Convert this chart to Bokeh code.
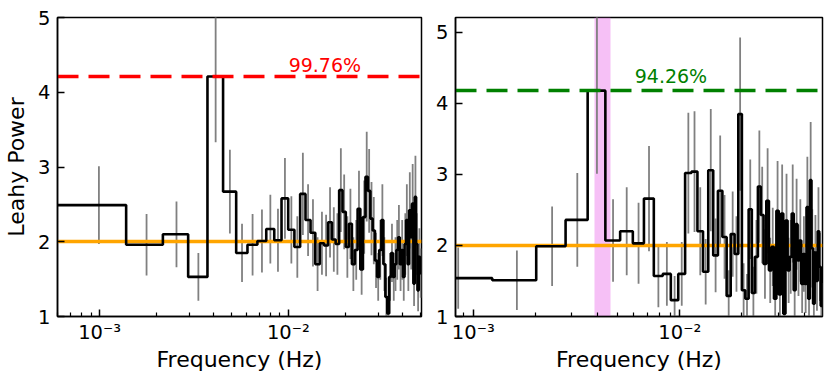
from bokeh.plotting import figure
from bokeh.layouts import row
from bokeh.models import FixedTicker, CustomJSTickFormatter, Range1d
from bokeh.core.properties import value
from bokeh.embed import file_html
from bokeh.resources import INLINE

# ---------------- data (frequencies in mHz) ----------------
freq_left_mhz = [0.991, 1.772, 2.553, 3.334, 4.116, 4.897, 5.678, 6.459, 7.241, 8.022,
                 8.803, 9.584, 10.366, 11.147, 11.928, 12.709, 13.491, 14.272, 15.053, 15.834,
                 16.616, 17.397, 18.178, 18.959, 19.741, 20.522, 21.303, 22.084, 22.866, 23.647,
                 24.428, 25.209, 25.991, 26.772, 27.553, 28.334, 29.116, 29.897, 30.678, 31.459,
                 32.241, 33.022, 33.803, 34.584, 35.366, 36.147, 36.928, 37.709, 38.491, 39.272,
                 40.053, 40.834, 41.616, 42.397, 43.178, 43.959, 44.741, 45.522, 46.303, 47.084,
                 47.866, 48.647, 49.428, 50.209]
power_left = [2.49, 1.96, 2.10, 1.53, 4.21, 2.67, 1.85, 1.96, 2.01, 2.17,
              2.02, 2.58, 2.16, 1.93, 2.64, 2.29, 2.12, 1.70, 1.98, 1.95,
              2.26, 2.03, 1.97, 2.69, 2.40, 1.93, 2.24, 1.70, 1.89, 2.44,
              1.63, 2.33, 2.87, 2.68, 2.31, 2.15, 1.75, 1.53, 1.89, 2.29,
              1.70, 1.26, 1.04, 1.53, 1.85, 1.53, 1.70, 1.89, 2.06, 1.70,
              1.89, 1.53, 1.97, 2.29, 1.70, 2.42, 2.06, 2.51, 1.44, 2.60,
              1.97, 1.35, 1.80, 1.58]
err_left = [0.52, 0.41, 0.44, 0.32, 0.88, 0.56, 0.39, 0.41, 0.42, 0.46,
            0.42, 0.54, 0.45, 0.41, 0.55, 0.48, 0.45, 0.36, 0.42, 0.41,
            0.47, 0.43, 0.41, 0.56, 0.50, 0.41, 0.47, 0.36, 0.40, 0.51,
            0.34, 0.49, 0.60, 0.56, 0.49, 0.45, 0.37, 0.32, 0.40, 0.48,
            0.36, 0.26, 0.22, 0.32, 0.39, 0.32, 0.36, 0.40, 0.43, 0.36,
            0.40, 0.32, 0.41, 0.48, 0.36, 0.51, 0.43, 0.53, 0.30, 0.55,
            0.41, 0.28, 0.38, 0.33]

freq_right_mhz = [0.845, 1.626, 2.408, 3.189, 3.970, 4.751, 5.533, 6.314, 7.095, 7.876,
                  8.658, 9.439, 10.220, 11.001, 11.783, 12.564, 13.345, 14.126, 14.908, 15.689,
                  16.470, 17.251, 18.033, 18.814, 19.595, 20.376, 21.158, 21.939, 22.720, 23.501,
                  24.283, 25.064, 25.845, 26.626, 27.408, 28.189, 28.970, 29.751, 30.533, 31.314,
                  32.095, 32.876, 33.658, 34.439, 35.220, 36.001, 36.783, 37.564, 38.345, 39.126,
                  39.908, 40.689, 41.470, 42.251, 43.033, 43.814, 44.595, 45.376, 46.158, 46.939,
                  47.720, 48.501]
power_right = [1.54, 1.51, 1.99, 2.36, 4.18, 2.07, 2.20, 2.03, 2.66, 1.57,
               1.60, 1.23, 1.60, 3.02, 3.04, 2.20, 1.63, 3.06, 1.86, 2.77,
               2.12, 1.29, 2.16, 1.88, 3.85, 1.37, 1.25, 2.51, 1.33, 1.84,
               2.83, 2.43, 1.74, 2.63, 1.65, 1.98, 1.25, 2.49, 1.31, 2.45,
               1.04, 2.35, 1.65, 1.84, 2.45, 1.37, 2.30, 1.79, 2.07, 1.46,
               1.88, 1.46, 2.54, 1.25, 2.92, 1.96, 1.18, 1.90, 1.50, 2.20,
               1.70, 1.15]
err_right = [0.43, 0.42, 0.56, 0.66, 1.17, 0.58, 0.62, 0.57, 0.74, 0.44,
             0.45, 0.34, 0.45, 0.85, 0.85, 0.62, 0.46, 0.86, 0.52, 0.78,
             0.59, 0.36, 0.60, 0.53, 1.08, 0.38, 0.35, 0.70, 0.37, 0.52,
             0.79, 0.68, 0.49, 0.74, 0.46, 0.55, 0.35, 0.70, 0.37, 0.69,
             0.29, 0.66, 0.46, 0.52, 0.69, 0.38, 0.64, 0.50, 0.58, 0.41,
             0.53, 0.41, 0.71, 0.35, 0.82, 0.55, 0.33, 0.53, 0.42, 0.62,
             0.48, 0.32]

noise_level = 2.0
threshold_left = 4.21
threshold_right = 4.18
label_left = "99.76%"
label_right = "94.26%"
label_left_pos = (15.6e-3, 4.36)
label_right_pos = (9.06e-3, 4.38)
band_right = (3.87e-3, 4.63e-3)

xlim_left = (0.598e-3, 0.0507)
xlim_right = (0.82e-3, 0.0491)
ylim_left = (1, 5)
ylim_right = (1, 5.21)

major_x = [1e-3, 1e-2]
minor_x = [6e-4, 7e-4, 8e-4, 9e-4, 2e-3, 3e-3, 4e-3, 5e-3, 6e-3, 7e-3, 8e-3, 9e-3,
           2e-2, 3e-2, 4e-2, 5e-2]
major_y = [1, 2, 3, 4, 5]

FONT = "DejaVu Sans"
SUP = CustomJSTickFormatter(code="""
const e = Math.round(Math.log10(tick));
const m = {'-':'\u207b','0':'\u2070','1':'\u00b9','2':'\u00b2','3':'\u00b3','4':'\u2074',
           '5':'\u2075','6':'\u2076','7':'\u2077','8':'\u2078','9':'\u2079'};
return '10' + String(e).split('').map(c => m[c]).join('');
""")


def panel(freq_mhz, power, err, xlim, ylim, thr, thr_color, lab, lab_pos,
          width, mbl, mbr, ylabel=None, band=None):
    f = [v * 1e-3 for v in freq_mhz]
    edges = [f[0] - (f[1] - f[0]) / 2.0]
    for i in range(len(f) - 1):
        edges.append((f[i] + f[i + 1]) / 2.0)
    edges.append(f[-1] + (f[-1] - f[-2]) / 2.0)
    step_y = list(power) + [power[-1]]

    p = figure(width=width, height=380, x_axis_type="log",
               x_range=Range1d(*xlim), y_range=Range1d(*ylim),
               output_backend="svg", toolbar_location=None,
               min_border_left=mbl, min_border_right=mbr,
               min_border_top=17, min_border_bottom=64)
    p.xgrid.visible = False
    p.ygrid.visible = False
    p.outline_line_color = "black"
    p.outline_line_width = 1.5
    p.outline_line_alpha = 1.0

    if band is not None:
        p.vstrip(x0=[band[0]], x1=[band[1]], fill_color="violet", fill_alpha=0.5,
                 line_color=None)

    lo = [pw - e for pw, e in zip(power, err)]
    hi = [pw + e for pw, e in zip(power, err)]
    p.segment(x0=f, y0=lo, x1=f, y1=hi, line_color="#808080", line_width=1.8)
    p.hspan(y=[noise_level], line_color="orange", line_width=3.5)
    p.step(x=edges, y=step_y, mode="after", line_color="black", line_width=2.6)
    p.hspan(y=[thr], line_color=thr_color, line_width=3.5, line_dash="21 10")
    p.text(x=[lab_pos[0]], y=[lab_pos[1]], text=[lab], text_color=thr_color,
           text_font=value(FONT), text_font_size="19px", text_align="center",
           text_baseline="middle")

    for ax in (p.xaxis[0], p.yaxis[0]):
        ax.axis_line_width = 1.5
        ax.major_tick_line_width = 1.5
        ax.minor_tick_line_width = 1.2
        ax.major_tick_in = 7
        ax.major_tick_out = 0
        ax.minor_tick_in = 4
        ax.minor_tick_out = 0
        ax.major_label_text_font = FONT
        ax.major_label_text_font_size = "19.5px"
        ax.major_label_text_color = "black"
        ax.axis_label_text_font = FONT
        ax.axis_label_text_font_size = "22px"
        ax.axis_label_text_font_style = "normal"
        ax.axis_label_text_color = "black"

    p.xaxis.ticker = FixedTicker(ticks=major_x, minor_ticks=minor_x)
    p.xaxis.formatter = SUP
    p.xaxis.axis_label = "Frequency (Hz)"
    p.xaxis.major_label_standoff = 4
    p.xaxis.axis_label_standoff = 0
    p.yaxis.ticker = FixedTicker(ticks=major_y, minor_ticks=[])
    p.yaxis.major_label_standoff = 7
    if ylabel:
        p.yaxis.axis_label = ylabel
        p.yaxis.axis_label_standoff = 6
    return p


p1 = panel(freq_left_mhz, power_left, err_left, xlim_left, ylim_left,
           threshold_left, "red", label_left, label_left_pos,
           width=426, mbl=57, mbr=5, ylabel="Leahy Power")
p2 = panel(freq_right_mhz, power_right, err_right, xlim_right, ylim_right,
           threshold_right, "green", label_right, label_right_pos,
           width=404, mbl=29, mbr=8, band=band_right)

layout = row(p1, p2)
open("out.html", "w").write(file_html(layout, INLINE))
